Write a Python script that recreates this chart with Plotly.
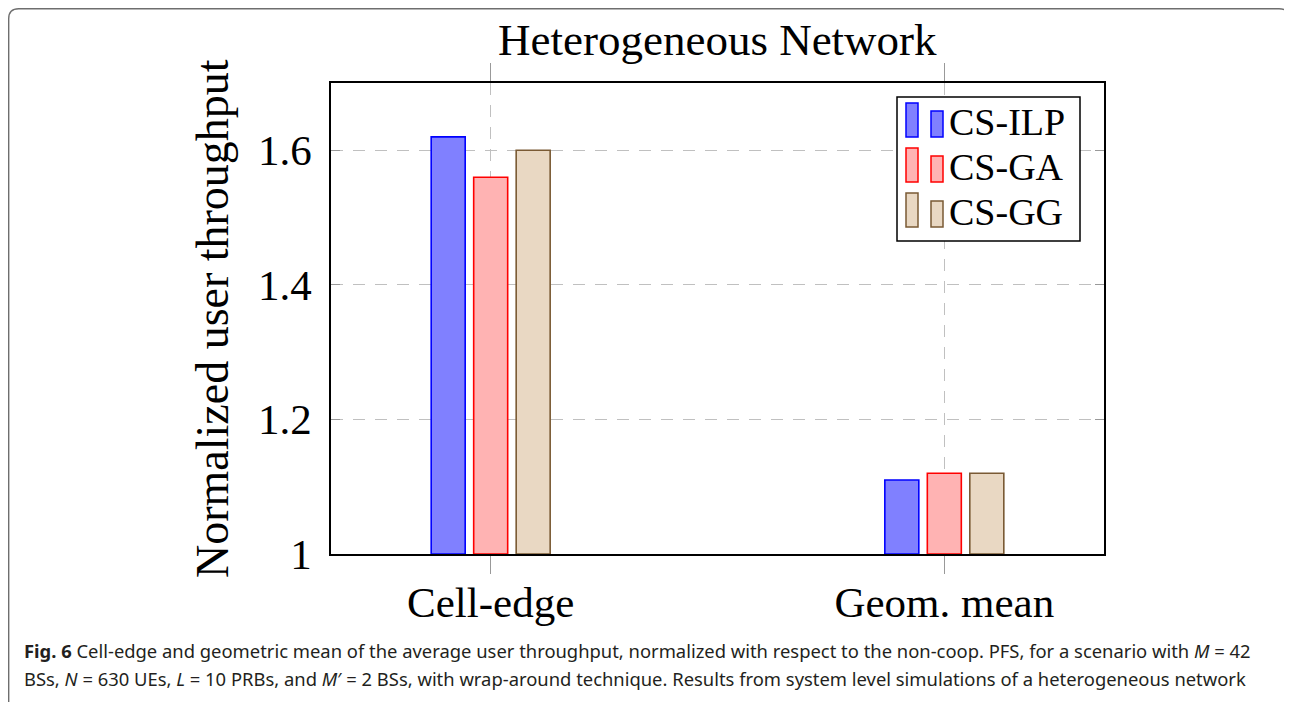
import plotly.graph_objects as go

categories = ["Cell-edge", "Geom. mean"]
series_names = ["CS-ILP", "CS-GA", "CS-GG"]
cs_ilp = [1.62, 1.11]
cs_ga = [1.56, 1.12]
cs_gg = [1.60, 1.12]
y_tick_vals = [1.0, 1.2, 1.4, 1.6]
y_tick_text = ["1", "1.2", "1.4", "1.6"]
title_text = "Heterogeneous Network"
y_title = "Normalized user throughput"
caption_lines = [
    "<b>Fig. 6</b> Cell-edge and geometric mean of the average user throughput, normalized with respect to the non-coop. PFS, for a scenario with <i>M</i> = 42",
    "BSs, <i>N</i> = 630 UEs, <i>L</i> = 10 PRBs, and <i>M</i>′ = 2 BSs, with wrap-around technique. Results from system level simulations of a heterogeneous network",
]

values = [cs_ilp, cs_ga, cs_gg]
fills = ["#8080ff", "#ffb3b3", "#e9d8c3"]
lines = ["#0000ff", "#ff0000", "#7a5a34"]

OFF = 8  # page body margin
W, H = 1292 - OFF, 702 - OFF
# plot area in screen pixels
SL, SR, ST, SB = 331, 1104, 83, 554
L, R, T, B = SL - OFF, SR - OFF, ST - OFF, SB - OFF


def px(x):
    return (x - SL) / (SR - SL)


def py(y):
    return (SB - y) / (SB - ST)


SERIF = "Liberation Serif, Times New Roman, serif"

fig = go.Figure()
for name, vals, fc, lc in zip(series_names, values, fills, lines):
    fig.add_trace(go.Bar(
        x=categories, y=[v - 1.0 for v in vals], base=1.0, name=name,
        marker=dict(color=fc, line=dict(color=lc, width=1.6)),
        showlegend=False,
    ))

shapes = []
annotations = []

# custom legend (pgfplots style, two bar icons per entry)
shapes.append(dict(type="rect", xref="paper", yref="paper",
                   x0=px(897), x1=px(1080), y0=py(241), y1=py(97),
                   line=dict(color="black", width=1.5), fillcolor="white", layer="above"))
row_tops = [103, 148, 193]
for i, (name, fc, lc) in enumerate(zip(series_names, fills, lines)):
    t = row_tops[i]
    shapes.append(dict(type="rect", xref="paper", yref="paper",
                       x0=px(906), x1=px(918), y0=py(t + 34), y1=py(t),
                       line=dict(color=lc, width=1.5), fillcolor=fc, layer="above"))
    shapes.append(dict(type="rect", xref="paper", yref="paper",
                       x0=px(931), x1=px(943), y0=py(t + 34), y1=py(t + 8),
                       line=dict(color=lc, width=1.5), fillcolor=fc, layer="above"))
    annotations.append(dict(text=name, xref="paper", yref="paper",
                            x=px(947), y=py(t + 19), xanchor="left", yanchor="middle",
                            showarrow=False, font=dict(family=SERIF, size=38, color="black")))

# figure frame with rounded corner
r = 10
fx0, fy0, fx1, fy1 = 8.7, 8.7, 1289, 702
path = (f"M {px(fx0)},{py(fy1)} L {px(fx0)},{py(fy0 + r)} "
        f"Q {px(fx0)},{py(fy0)} {px(fx0 + r)},{py(fy0)} "
        f"L {px(fx1 - r)},{py(fy0)} Q {px(fx1)},{py(fy0)} {px(fx1)},{py(fy0 + r)} "
        f"L {px(fx1)},{py(fy1)}")
shapes.append(dict(type="path", xref="paper", yref="paper", path=path,
                   line=dict(color="#6e6e6e", width=1.4)))

annotations.append(dict(text=title_text, xref="paper", yref="paper",
                        x=px(717.5), y=py(40), xanchor="center", yanchor="middle",
                        showarrow=False, font=dict(family=SERIF, size=45, color="black")))
annotations.append(dict(text=y_title, xref="paper", yref="paper", textangle=-90,
                        x=px(212), y=py(319), xanchor="center", yanchor="middle",
                        showarrow=False, font=dict(family=SERIF, size=46, color="black")))
for i, line in enumerate(caption_lines):
    annotations.append(dict(text=line, xref="paper", yref="paper",
                            x=px(22), y=py(650 + 28 * i), xanchor="left", yanchor="middle",
                            showarrow=False, font=dict(family="Noto Sans", size=18.4, color="#231f20")))

fig.update_layout(
    width=W, height=H,
    margin=dict(l=L, r=W - R, t=T, b=H - B, pad=0),
    paper_bgcolor="white", plot_bgcolor="white",
    barmode="group", bargap=0.719, bargroupgap=0.2,
    shapes=shapes, annotations=annotations,
    showlegend=False,
)
fig.update_xaxes(
    range=[-0.352, 1.352], showline=True, linecolor="black", linewidth=1.5, mirror="all",
    ticks="outside", ticklen=18, tickcolor="#999999", tickwidth=1.2,
    showgrid=True, gridcolor="#c0c0c0", gridwidth=1.3, griddash="12px,10px",
    tickfont=dict(family=SERIF, size=43, color="black"),
    ticklabelstandoff=-8, zeroline=False,
)
fig.update_yaxes(
    range=[1.0, 1.7], tickvals=y_tick_vals, ticktext=y_tick_text,
    showline=True, linecolor="black", linewidth=1.5, mirror="all",
    ticks="inside", ticklen=9, tickcolor="#999999", tickwidth=1.2,
    showgrid=True, gridcolor="#c0c0c0", gridwidth=1.3, griddash="12px,10px",
    tickfont=dict(family=SERIF, size=43, color="black"),
    ticklabelstandoff=9, zeroline=False,
)

fig.write_html("out.html")
